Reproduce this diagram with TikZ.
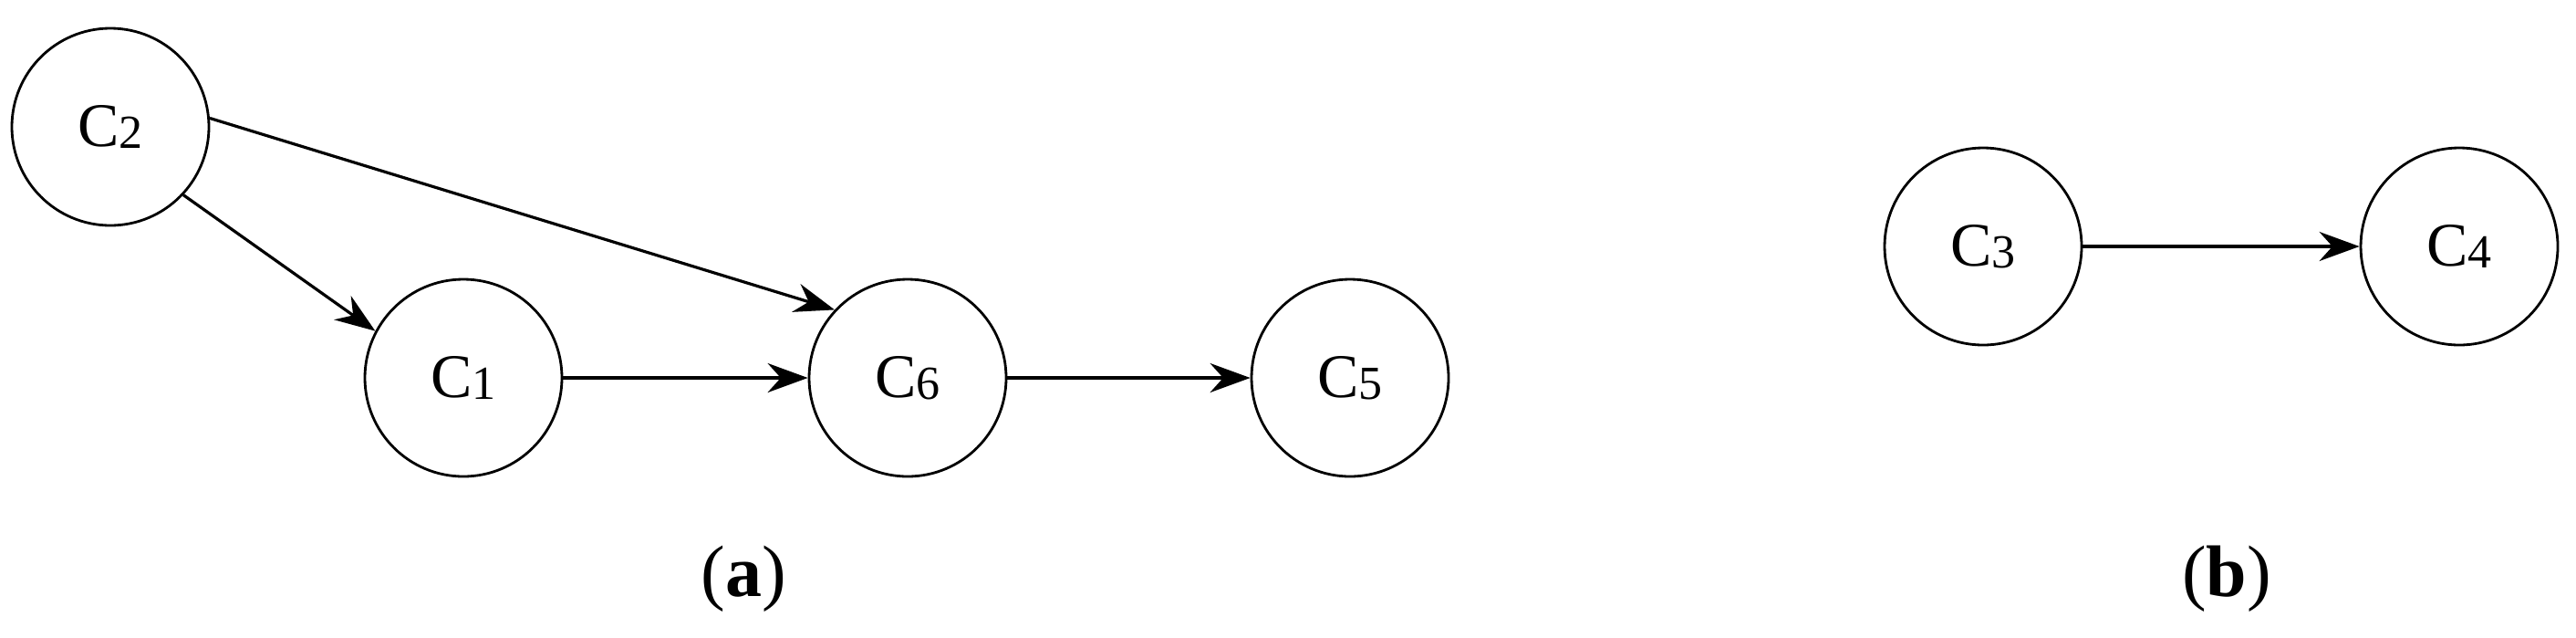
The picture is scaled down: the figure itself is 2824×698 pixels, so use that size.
\documentclass[tikz,border=0pt]{standalone}
\usepackage{fontspec}
\setmainfont{Liberation Serif}
\usetikzlibrary{arrows.meta}
\begin{document}
\begin{tikzpicture}[x=0.25pt,y=-0.25pt,
  cnode/.style={circle,draw,line width=0.7pt,minimum size=54pt,inner sep=0pt,font=\fontsize{17}{17}\selectfont},
  conn/.style={line width=0.8pt,-{Stealth[length=11pt,width=8pt]}}]
\useasboundingbox (0,0) rectangle (2824,698);
\node[cnode] (c2) at (121,139) {C\raisebox{-0.5pt}{\fontsize{13}{13}\selectfont 2}};
\node[cnode] (c1) at (508,414) {C\raisebox{-0.5pt}{\fontsize{13}{13}\selectfont 1}};
\node[cnode] (c6) at (995,414) {C\raisebox{-0.5pt}{\fontsize{13}{13}\selectfont 6}};
\node[cnode] (c5) at (1480,414) {C\raisebox{-0.5pt}{\fontsize{13}{13}\selectfont 5}};
\node[cnode] (c3) at (2174,270) {C\raisebox{-0.5pt}{\fontsize{13}{13}\selectfont 3}};
\node[cnode] (c4) at (2696,270) {C\raisebox{-0.5pt}{\fontsize{13}{13}\selectfont 4}};
\draw[conn] (c2.-43) -- (c1.152);
\draw[conn] (c2.5) -- (c6.137);
\draw[conn] (c1) -- (c6);
\draw[conn] (c6) -- (c5);
\draw[conn] (c3) -- (c4);
\node[font=\fontsize{20}{20}\selectfont] (la) at (815,634) {(\textbf{a})};
\node[font=\fontsize{20}{20}\selectfont] (lb) at (2441,634) {(\textbf{b})};
\end{tikzpicture}
\end{document}
